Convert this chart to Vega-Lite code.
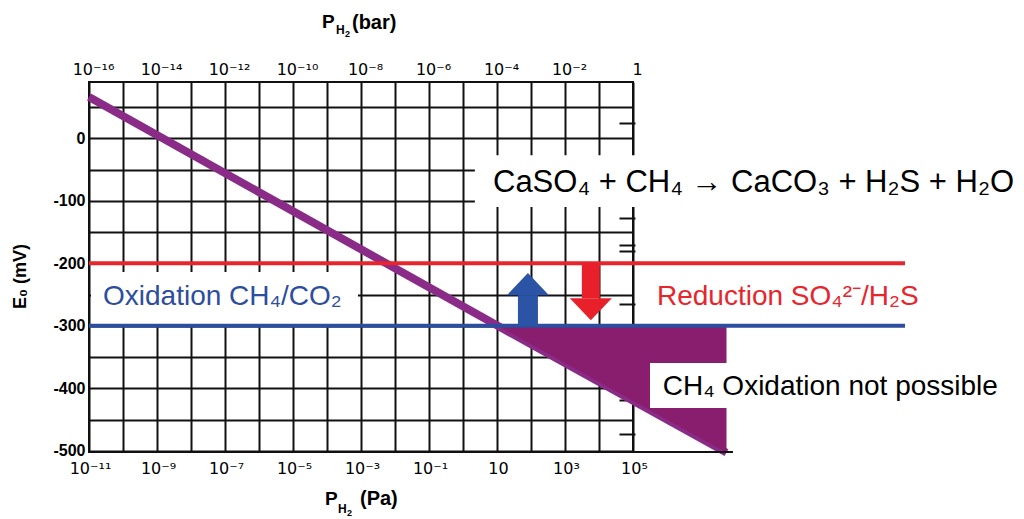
{
  "$schema": "https://vega.github.io/schema/vega-lite/v6.json",
  "width": 544,
  "height": 370,
  "autosize": {"type": "none"},
  "padding": {"left": 89, "top": 82, "right": 391, "bottom": 67},
  "background": "white",
  "config": {
    "view": {"stroke": "#111111", "strokeWidth": 2},
    "font": "Liberation Sans",
    "axis": {"labelFont": "DejaVu Sans", "titleFont": "Liberation Sans", "labelColor": "black", "titleColor": "black"},
    "text": {"font": "Liberation Sans"}
  },
  "datasets": {
    "potential": [
      {"logP_bar": -16, "E_mV": 66},
      {"logP_bar": -3.98, "E_mV": -300},
      {"logP_bar": 2.75, "E_mV": -503}
    ],
    "couples": [
      {"couple": "Reduction SO₄²⁻/H₂S", "E_mV": -200},
      {"couple": "Oxidation CH₄/CO₂", "E_mV": -300}
    ]
  },
  "resolve": {"axis": {"x": "independent", "y": "independent"}},
  "layer": [
    {
      "data": {"values": [{"box": "equation"}]},
      "mark": {"type": "rect", "color": "white"},
      "encoding": {
        "x": {"datum": -4.65, "scale": {"domain": [-16, 0], "nice": false, "zero": false}, "axis": null},
        "x2": {"datum": 12},
        "y": {"datum": -27, "scale": {"domain": [-502, 90], "nice": false, "zero": false}, "axis": null},
        "y2": {"datum": -110}
      }
    },
    {
      "data": {"values": [{"box": "oxidation"}]},
      "mark": {"type": "rect", "color": "white"},
      "encoding": {
        "x": {"datum": -15.94, "scale": {"domain": [-16, 0], "nice": false, "zero": false}, "axis": null},
        "x2": {"datum": -8.09},
        "y": {"datum": -214, "scale": {"domain": [-502, 90], "nice": false, "zero": false}, "axis": null},
        "y2": {"datum": -297}
      }
    },
    {
      "data": {"name": "potential"},
      "mark": {"type": "line", "color": "#8b2b88", "strokeWidth": 8, "strokeCap": "butt"},
      "encoding": {
        "x": {
          "field": "logP_bar", "type": "quantitative",
          "scale": {"domain": [-16, 0], "nice": false, "zero": false},
          "axis": {
            "orient": "top",
            "values": [-16, -15, -14, -13, -12, -11, -10, -9, -8, -7, -6, -5, -4, -3, -2, -1, 0],
            "labelExpr": "['10⁻¹⁶','','10⁻¹⁴','','10⁻¹²','','10⁻¹⁰','','10⁻⁸','','10⁻⁶','','10⁻⁴','','10⁻²','','1'][datum.value + 16]",
            "grid": true, "gridColor": "#111111", "gridWidth": 2, "gridOpacity": 1,
            "ticks": false, "domain": false,
            "labelFontSize": 16, "labelPadding": 5, "labelOffset": 4,
            "labelFlush": false, "labelOverlap": false, "labelBound": false,
            "title": null
          }
        },
        "y": {
          "field": "E_mV", "type": "quantitative",
          "scale": {"domain": [-502, 90], "nice": false, "zero": false},
          "axis": {
            "orient": "left",
            "values": [-500, -450, -400, -350, -300, -250, -200, -150, -100, -50, 0, 50],
            "labelExpr": "datum.value % 100 == 0 ? '' + datum.value : ''",
            "grid": true, "gridColor": "#111111", "gridWidth": 2, "gridOpacity": 1,
            "ticks": false, "domain": false,
            "labelFont": "Liberation Sans",
            "labelFontSize": 16, "labelFontWeight": "bold", "labelPadding": 4,
            "labelOverlap": false, "labelBound": false,
            "title": "E₀ (mV)", "titleFontSize": 18, "titleFontWeight": "bold",
            "titleAngle": 270, "titleX": -64, "titleY": 194,
            "titleAlign": "center", "titleBaseline": "alphabetic"
          }
        }
      }
    },
    {
      "data": {"name": "potential"},
      "transform": [{"filter": "datum.E_mV <= -300"}],
      "mark": {"type": "area", "color": "#8a1e6e", "opacity": 1},
      "encoding": {
        "x": {
          "field": "logP_bar", "type": "quantitative",
          "scale": {"domain": [-16, 0], "nice": false, "zero": false},
          "axis": {
            "orient": "bottom",
            "values": [-16, -14, -12, -10, -8, -6, -4, -2, 0],
            "labelExpr": "['10⁻¹¹','10⁻⁹','10⁻⁷','10⁻⁵','10⁻³','10⁻¹','10','10³','10⁵'][(datum.value + 16) / 2]",
            "grid": false, "ticks": false, "domain": false,
            "labelFontSize": 16, "labelPadding": 8, "labelOffset": 1,
            "labelFlush": false, "labelOverlap": false, "labelBound": false,
            "title": null
          }
        },
        "y": {
          "field": "E_mV", "type": "quantitative",
          "scale": {"domain": [-502, 90], "nice": false, "zero": false},
          "axis": {
            "orient": "right",
            "values": [24, -128, -171, -180, -265, -419, -473],
            "labels": false, "grid": false, "domain": false,
            "ticks": true, "tickSize": 16, "tickWidth": 2, "tickColor": "#111111",
            "offset": -14, "title": null
          }
        },
        "y2": {"datum": -300}
      }
    },
    {
      "data": {"values": [{"box": "not possible"}]},
      "mark": {"type": "rect", "color": "white"},
      "encoding": {
        "x": {"datum": 0.5, "scale": {"domain": [-16, 0], "nice": false, "zero": false}, "axis": null},
        "x2": {"datum": 11.1},
        "y": {"datum": -359.6, "scale": {"domain": [-502, 90], "nice": false, "zero": false}, "axis": null},
        "y2": {"datum": -431.6}
      }
    },
    {
      "data": {"values": [{"line": "baseline extension"}]},
      "mark": {"type": "rule", "color": "#111111", "strokeWidth": 2},
      "encoding": {
        "x": {"datum": 0, "scale": {"domain": [-16, 0], "nice": false, "zero": false}, "axis": null},
        "x2": {"datum": 2.94},
        "y": {"datum": -502, "scale": {"domain": [-502, 90], "nice": false, "zero": false}, "axis": null}
      }
    },
    {
      "data": {"name": "couples"},
      "mark": {"type": "rule", "strokeWidth": 4},
      "encoding": {
        "x": {"datum": -16, "scale": {"domain": [-16, 0], "nice": false, "zero": false}, "axis": null},
        "x2": {"datum": 8},
        "y": {"field": "E_mV", "type": "quantitative", "scale": {"domain": [-502, 90], "nice": false, "zero": false}, "axis": null},
        "color": {
          "field": "couple", "type": "nominal",
          "scale": {"domain": ["Reduction SO₄²⁻/H₂S", "Oxidation CH₄/CO₂"], "range": ["#e8242c", "#2d4d9e"]},
          "legend": null
        }
      }
    },
    {
      "data": {"values": [{"arrow": "oxidation up"}]},
      "mark": {"type": "rule", "color": "#2b54a6", "strokeWidth": 20, "strokeCap": "butt"},
      "encoding": {
        "x": {"datum": -3.09, "scale": {"domain": [-16, 0], "nice": false, "zero": false}, "axis": null},
        "y": {"datum": -300, "scale": {"domain": [-502, 90], "nice": false, "zero": false}, "axis": null},
        "y2": {"datum": -251}
      }
    },
    {
      "data": {"values": [{"arrow": "oxidation up"}]},
      "mark": {"type": "point", "shape": "M-1,0L1,0L0,-1.05Z", "size": 1764, "filled": true, "color": "#2b54a6", "opacity": 1, "strokeWidth": 0},
      "encoding": {
        "x": {"datum": -3.09, "scale": {"domain": [-16, 0], "nice": false, "zero": false}, "axis": null},
        "y": {"datum": -251, "scale": {"domain": [-502, 90], "nice": false, "zero": false}, "axis": null}
      }
    },
    {
      "data": {"values": [{"arrow": "reduction down"}]},
      "mark": {"type": "rule", "color": "#e8202a", "strokeWidth": 18, "strokeCap": "butt"},
      "encoding": {
        "x": {"datum": -1.24, "scale": {"domain": [-16, 0], "nice": false, "zero": false}, "axis": null},
        "y": {"datum": -200, "scale": {"domain": [-502, 90], "nice": false, "zero": false}, "axis": null},
        "y2": {"datum": -256}
      }
    },
    {
      "data": {"values": [{"arrow": "reduction down"}]},
      "mark": {"type": "point", "shape": "M-1,0L1,0L0,1.05Z", "size": 1764, "filled": true, "color": "#e8202a", "opacity": 1, "strokeWidth": 0},
      "encoding": {
        "x": {"datum": -1.24, "scale": {"domain": [-16, 0], "nice": false, "zero": false}, "axis": null},
        "y": {"datum": -256, "scale": {"domain": [-502, 90], "nice": false, "zero": false}, "axis": null}
      }
    },
    {
      "data": {"values": [{"label": "CaSO₄ + CH₄ → CaCO₃ + H₂S + H₂O"}]},
      "mark": {"type": "text", "align": "left", "baseline": "middle", "fontSize": 31, "color": "black"},
      "encoding": {
        "x": {"datum": -4.118, "scale": {"domain": [-16, 0], "nice": false, "zero": false}, "axis": null},
        "y": {"datum": -70.8, "scale": {"domain": [-502, 90], "nice": false, "zero": false}, "axis": null},
        "text": {"field": "label"}
      }
    },
    {
      "data": {"values": [{"label": "Oxidation CH₄/CO₂"}]},
      "mark": {"type": "text", "align": "left", "baseline": "middle", "fontSize": 28, "color": "#2d4d9e"},
      "encoding": {
        "x": {"datum": -15.588, "scale": {"domain": [-16, 0], "nice": false, "zero": false}, "axis": null},
        "y": {"datum": -254, "scale": {"domain": [-502, 90], "nice": false, "zero": false}, "axis": null},
        "text": {"field": "label"}
      }
    },
    {
      "data": {"values": [{"label": "Reduction SO₄²⁻/H₂S"}]},
      "mark": {"type": "text", "align": "left", "baseline": "middle", "fontSize": 28, "color": "#e8242c"},
      "encoding": {
        "x": {"datum": 0.706, "scale": {"domain": [-16, 0], "nice": false, "zero": false}, "axis": null},
        "y": {"datum": -254, "scale": {"domain": [-502, 90], "nice": false, "zero": false}, "axis": null},
        "text": {"field": "label"}
      }
    },
    {
      "data": {"values": [{"label": "CH₄ Oxidation not possible"}]},
      "mark": {"type": "text", "align": "left", "baseline": "middle", "fontSize": 28, "color": "black"},
      "encoding": {
        "x": {"datum": 0.874, "scale": {"domain": [-16, 0], "nice": false, "zero": false}, "axis": null},
        "y": {"datum": -398, "scale": {"domain": [-502, 90], "nice": false, "zero": false}, "axis": null},
        "text": {"field": "label"}
      }
    },
    {
      "data": {"values": [{"label": "P"}]},
      "mark": {"type": "text", "align": "left", "baseline": "alphabetic", "fontSize": 19, "fontWeight": "bold", "color": "black"},
      "encoding": {
        "x": {"datum": -9.147, "scale": {"domain": [-16, 0], "nice": false, "zero": false}, "axis": null},
        "y": {"datum": 176.4, "scale": {"domain": [-502, 90], "nice": false, "zero": false}, "axis": null},
        "text": {"field": "label"}
      }
    },
    {
      "data": {"values": [{"label": "H"}]},
      "mark": {"type": "text", "align": "left", "baseline": "alphabetic", "fontSize": 12, "fontWeight": "bold", "color": "black"},
      "encoding": {
        "x": {"datum": -8.735, "scale": {"domain": [-16, 0], "nice": false, "zero": false}, "axis": null},
        "y": {"datum": 166.8, "scale": {"domain": [-502, 90], "nice": false, "zero": false}, "axis": null},
        "text": {"field": "label"}
      }
    },
    {
      "data": {"values": [{"label": "2"}]},
      "mark": {"type": "text", "align": "left", "baseline": "alphabetic", "fontSize": 9, "fontWeight": "bold", "color": "black"},
      "encoding": {
        "x": {"datum": -8.47, "scale": {"domain": [-16, 0], "nice": false, "zero": false}, "axis": null},
        "y": {"datum": 162, "scale": {"domain": [-502, 90], "nice": false, "zero": false}, "axis": null},
        "text": {"field": "label"}
      }
    },
    {
      "data": {"values": [{"label": "(bar)"}]},
      "mark": {"type": "text", "align": "left", "baseline": "alphabetic", "fontSize": 20, "fontWeight": "bold", "color": "black"},
      "encoding": {
        "x": {"datum": -8.265, "scale": {"domain": [-16, 0], "nice": false, "zero": false}, "axis": null},
        "y": {"datum": 174.8, "scale": {"domain": [-502, 90], "nice": false, "zero": false}, "axis": null},
        "text": {"field": "label"}
      }
    },
    {
      "data": {"values": [{"label": "P"}]},
      "mark": {"type": "text", "align": "left", "baseline": "alphabetic", "fontSize": 19, "fontWeight": "bold", "color": "black"},
      "encoding": {
        "x": {"datum": -9.06, "scale": {"domain": [-16, 0], "nice": false, "zero": false}, "axis": null},
        "y": {"datum": -586.8, "scale": {"domain": [-502, 90], "nice": false, "zero": false}, "axis": null},
        "text": {"field": "label"}
      }
    },
    {
      "data": {"values": [{"label": "H"}]},
      "mark": {"type": "text", "align": "left", "baseline": "alphabetic", "fontSize": 12, "fontWeight": "bold", "color": "black"},
      "encoding": {
        "x": {"datum": -8.676, "scale": {"domain": [-16, 0], "nice": false, "zero": false}, "axis": null},
        "y": {"datum": -599.6, "scale": {"domain": [-502, 90], "nice": false, "zero": false}, "axis": null},
        "text": {"field": "label"}
      }
    },
    {
      "data": {"values": [{"label": "2"}]},
      "mark": {"type": "text", "align": "left", "baseline": "alphabetic", "fontSize": 9, "fontWeight": "bold", "color": "black"},
      "encoding": {
        "x": {"datum": -8.412, "scale": {"domain": [-16, 0], "nice": false, "zero": false}, "axis": null},
        "y": {"datum": -604.4, "scale": {"domain": [-502, 90], "nice": false, "zero": false}, "axis": null},
        "text": {"field": "label"}
      }
    },
    {
      "data": {"values": [{"label": "(Pa)"}]},
      "mark": {"type": "text", "align": "left", "baseline": "alphabetic", "fontSize": 20, "fontWeight": "bold", "color": "black"},
      "encoding": {
        "x": {"datum": -8.03, "scale": {"domain": [-16, 0], "nice": false, "zero": false}, "axis": null},
        "y": {"datum": -586.8, "scale": {"domain": [-502, 90], "nice": false, "zero": false}, "axis": null},
        "text": {"field": "label"}
      }
    }
  ]
}
